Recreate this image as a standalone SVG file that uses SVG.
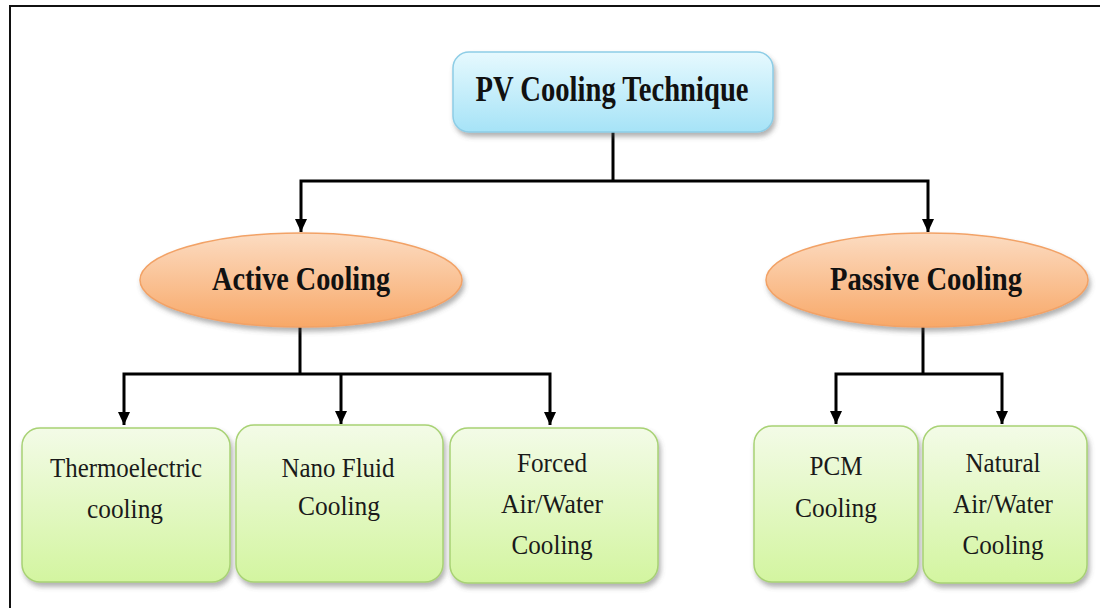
<svg xmlns="http://www.w3.org/2000/svg" width="1100" height="608" viewBox="0 0 1100 608">
<defs>
<linearGradient id="gBlue" x1="0" y1="0" x2="0" y2="1">
<stop offset="0" stop-color="#e6f9fe"/>
<stop offset="1" stop-color="#a6e3f7"/>
</linearGradient>
<linearGradient id="gPeach" x1="0" y1="0" x2="0" y2="1">
<stop offset="0" stop-color="#fcdcc2"/>
<stop offset="1" stop-color="#f8a868"/>
</linearGradient>
<linearGradient id="gGreen" x1="0" y1="0" x2="0" y2="1">
<stop offset="0" stop-color="#f3fbe7"/>
<stop offset="1" stop-color="#d3f5a0"/>
</linearGradient>
<filter id="shadow" x="-10%" y="-10%" width="125%" height="135%">
<feDropShadow dx="2" dy="4" stdDeviation="2.5" flood-color="#555" flood-opacity="0.45"/>
</filter>
<marker id="arrow" markerUnits="userSpaceOnUse" markerWidth="13" markerHeight="12" refX="13" refY="6" orient="auto">
<path d="M0,0 L13,6 L0,12 z" fill="#000"/>
</marker>
</defs>
<style>
.conn{fill:none;stroke:#000;stroke-width:3;stroke-linejoin:miter}
.arr{marker-end:url(#arrow)}
.root{fill:url(#gBlue);stroke:#8dcde6;stroke-width:1.5}
.cat{fill:url(#gPeach);stroke:#f2a266;stroke-width:1.5}
.leaf{fill:url(#gGreen);stroke:#a8d274;stroke-width:1.5}
.tb{font-family:"Liberation Serif",serif;font-weight:bold;fill:#111;text-anchor:middle}
.tn{font-family:"Liberation Serif",serif;font-size:27px;fill:#1a1a1a;text-anchor:middle}
</style>
<g id="frame">
<path d="M10,608 V6 H1100" fill="none" stroke="#111" stroke-width="2"/>
</g>
<g id="connectors">
<path class="conn" d="M613,132 V181"/>
<path class="conn arr" d="M613,181 H301 V232"/>
<path class="conn arr" d="M613,181 H928 V232"/>
<path class="conn" d="M300,327 V374"/>
<path class="conn arr" d="M300,374 H124 V425"/>
<path class="conn arr" d="M341,374 V424"/>
<path class="conn arr" d="M300,374 H550 V425"/>
<path class="conn" d="M923,327 V374"/>
<path class="conn arr" d="M923,374 H836 V424"/>
<path class="conn arr" d="M923,374 H1002 V424"/>
</g>
<g id="root">
<rect class="root" x="453" y="52" width="320" height="80" rx="16" filter="url(#shadow)"/>
<text class="tb" x="612" y="101" font-size="35" textLength="273" lengthAdjust="spacingAndGlyphs">PV Cooling Technique</text>
</g>
<g id="active">
<ellipse class="cat" cx="301" cy="280" rx="161" ry="47" filter="url(#shadow)"/>
<text class="tb" x="301" y="290" font-size="33" textLength="178" lengthAdjust="spacingAndGlyphs">Active Cooling</text>
</g>
<g id="passive">
<ellipse class="cat" cx="927" cy="280" rx="161" ry="47" filter="url(#shadow)"/>
<text class="tb" x="926" y="290" font-size="33" textLength="192" lengthAdjust="spacingAndGlyphs">Passive Cooling</text>
</g>
<g id="thermoelectric">
<rect class="leaf" x="22" y="428" width="208" height="154" rx="18" filter="url(#shadow)"/>
<text class="tn" x="126" y="477" textLength="152" lengthAdjust="spacingAndGlyphs">Thermoelectric</text>
<text class="tn" x="125" y="518" textLength="76" lengthAdjust="spacingAndGlyphs">cooling</text>
</g>
<g id="nanofluid">
<rect class="leaf" x="236" y="425" width="207" height="157" rx="18" filter="url(#shadow)"/>
<text class="tn" x="338" y="477" textLength="113" lengthAdjust="spacingAndGlyphs">Nano Fluid</text>
<text class="tn" x="339" y="515" textLength="82" lengthAdjust="spacingAndGlyphs">Cooling</text>
</g>
<g id="forced">
<rect class="leaf" x="450" y="428" width="208" height="155" rx="18" filter="url(#shadow)"/>
<text class="tn" x="552" y="472" textLength="70" lengthAdjust="spacingAndGlyphs">Forced</text>
<text class="tn" x="552" y="513" textLength="102" lengthAdjust="spacingAndGlyphs">Air/Water</text>
<text class="tn" x="552" y="554" textLength="81" lengthAdjust="spacingAndGlyphs">Cooling</text>
</g>
<g id="pcm">
<rect class="leaf" x="754" y="426" width="164" height="156" rx="18" filter="url(#shadow)"/>
<text class="tn" x="836" y="475" textLength="53" lengthAdjust="spacingAndGlyphs">PCM</text>
<text class="tn" x="836" y="517" textLength="82" lengthAdjust="spacingAndGlyphs">Cooling</text>
</g>
<g id="natural">
<rect class="leaf" x="923" y="426" width="164" height="157" rx="18" filter="url(#shadow)"/>
<text class="tn" x="1003" y="472" textLength="75" lengthAdjust="spacingAndGlyphs">Natural</text>
<text class="tn" x="1003" y="513" textLength="100" lengthAdjust="spacingAndGlyphs">Air/Water</text>
<text class="tn" x="1003" y="554" textLength="81" lengthAdjust="spacingAndGlyphs">Cooling</text>
</g>
</svg>
